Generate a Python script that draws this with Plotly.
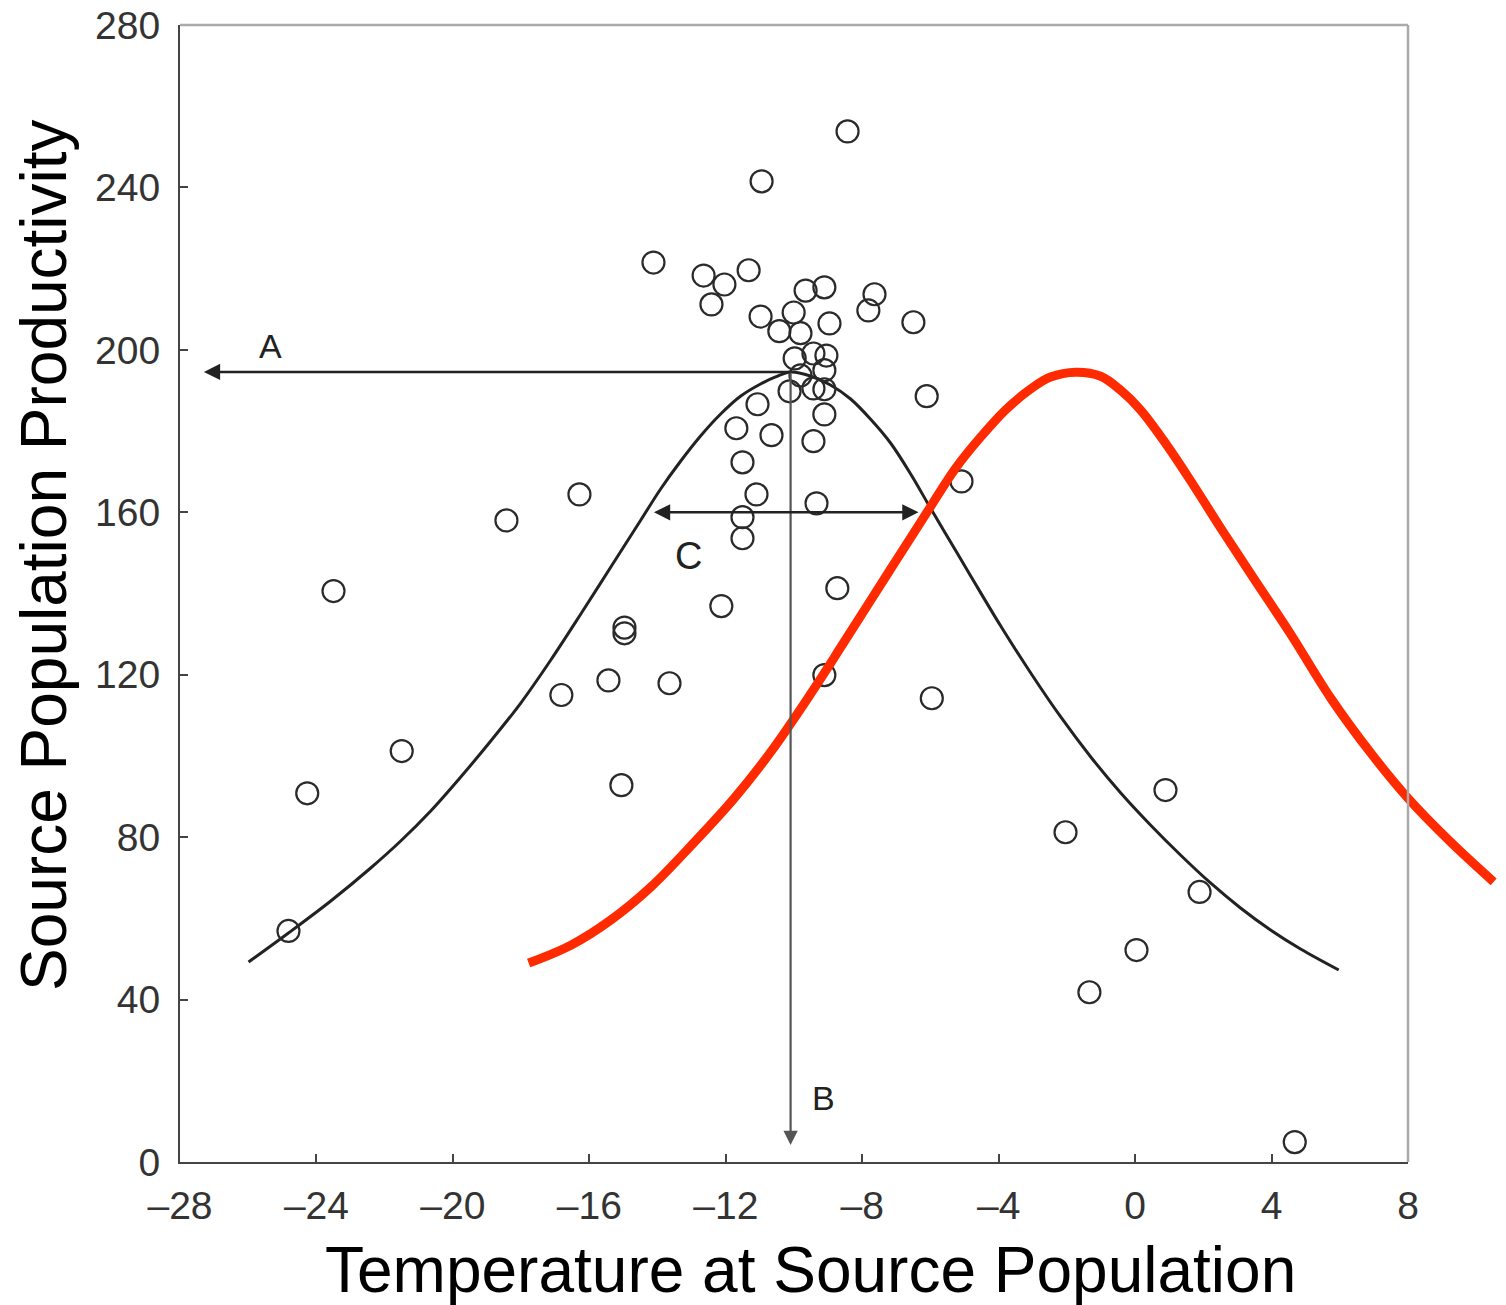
import plotly.graph_objects as go

# ---------------- data ----------------
pts_x = [-24.82, -24.27, -23.5, -21.5, -18.43, -16.29, -16.82, -15.44, -14.97, -14.97,
         -15.06, -13.65, -14.12, -12.65, -12.04, -12.42, -11.33, -10.95, -8.43, -10.98,
         -10.43, -10.01, -9.66, -9.11, -9.81, -8.96, -7.64, -7.82, -6.50, -9.98,
         -9.43, -9.05, -9.11, -9.81, -9.43, -9.11, -10.13, -11.07, -9.11, -6.11,
         -11.69, -10.66, -9.43, -11.51, -11.1, -9.34, -11.51, -11.51, -12.13, -8.73,
         -5.09, -9.11, -5.96, -2.04, 0.89, 1.89, 0.04, -1.34, 4.68]
pts_y = [56.9, 90.8, 140.6, 101.2, 158.0, 164.4, 115.0, 118.6, 131.6, 130.2,
         92.8, 117.9, 221.5, 218.3, 216.1, 211.2, 219.6, 241.5, 253.8, 208.2,
         204.6, 209.2, 214.6, 215.4, 204.1, 206.5, 213.7, 209.7, 206.8, 197.9,
         199.1, 198.6, 195.0, 193.7, 190.5, 190.3, 189.8, 186.6, 184.1, 188.6,
         180.7, 179.0, 177.5, 172.3, 164.4, 162.2, 158.8, 153.6, 136.9, 141.3,
         167.6, 119.9, 114.2, 81.2, 91.6, 66.5, 52.2, 41.8, 4.9]

fit_x = [-25.99, -24.82, -23.58, -22.41, -21.53, -20.65, -19.77, -18.89, -18.01, -17.13,
         -16.25, -15.37, -14.49, -13.91, -13.32, -12.74, -12.15, -11.56, -10.98, -10.54,
         -10.10, -9.52, -8.93, -8.34, -7.76, -7.17, -6.58, -6.00, -5.41, -4.82,
         -3.94, -3.06, -2.18, -1.30, -0.42, 0.45, 1.33, 2.21, 3.09, 3.97,
         4.85, 5.97]
fit_y = [49.25, 56.39, 64.27, 72.40, 79.05, 86.44, 94.81, 103.68, 113.03, 123.62,
         134.95, 146.53, 158.10, 165.74, 172.63, 178.79, 184.21, 188.64, 191.60, 193.32,
         194.55, 193.57, 191.35, 187.90, 182.97, 177.06, 169.43, 161.05, 152.68, 144.31,
         131.99, 120.42, 109.59, 99.74, 90.87, 82.99, 75.60, 68.71, 62.55, 57.13,
         52.45, 47.28]

shift_x = [-17.78, -16.54, -15.37, -14.20, -12.94, -11.77, -10.68, -9.51, -8.55, -7.26,
           -6.08, -5.26, -4.53, -3.80, -3.06, -2.48, -1.74, -1.01, -0.43, 0.16,
           0.95, 1.71, 2.51, 3.47, 4.56, 5.73, 6.91, 8.02, 9.25, 10.51]
shift_y = [49.0, 53.4, 59.6, 67.7, 78.6, 89.4, 101.0, 115.3, 127.8, 144.8,
           160.3, 170.9, 178.5, 185.2, 190.4, 193.3, 194.5, 193.5, 190.1, 185.2,
           176.3, 166.7, 156.1, 143.8, 130.0, 114.3, 100.7, 89.4, 78.8, 69.0]

x_ticks = [-28, -24, -20, -16, -12, -8, -4, 0, 4, 8]
x_tick_labels = ["\u201328", "\u201324", "\u201320", "\u201316", "\u201312",
                 "\u20138", "\u20134", "0", "4", "8"]
y_ticks = [0, 40, 80, 120, 160, 200, 240, 280]

# annotation (arrow) values
arrow_a_end_x = -27.3
arrow_b_end_y = 4.2
band_y = 160
band_x = [-14.15, -6.35]
label_text = ["A", "B", "C"]
label_x = [-25.35, -9.13, -13.09]
label_y = [200.9, 15.75, 149.2]
label_size = [34, 34, 38]

X_RANGE = [-28, 8]
Y_RANGE = [0, 280]

# ---------------- layout geometry ----------------
W, H = 1506, 1305
ML, MR, MT, MB = 180, 8, 25, 143
plot_w = W - ML - MR
plot_h = H - MT - MB
main_w = 1228
dom_main = main_w / plot_w
x2_max = X_RANGE[0] + (X_RANGE[1] - X_RANGE[0]) / dom_main

FONT = "Liberation Sans, Arial, Helvetica, sans-serif"

fig = go.Figure()
fig.add_trace(go.Scatter(x=fit_x, y=fit_y, mode="lines",
                         line=dict(color="#222222", width=3, shape="spline", smoothing=1.0),
                         hoverinfo="skip", showlegend=False))
fig.add_trace(go.Scatter(x=pts_x, y=pts_y, mode="markers",
                         marker=dict(symbol="circle-open", size=22, color="#2a2a2a",
                                     line=dict(width=2.2, color="#2a2a2a")),
                         showlegend=False))
fig.add_trace(go.Scatter(x=shift_x, y=shift_y, mode="lines", xaxis="x2", yaxis="y2",
                         line=dict(color="#ff2a00", width=9, shape="spline", smoothing=1.0),
                         hoverinfo="skip", showlegend=False))

axis_common = dict(showgrid=False, zeroline=False, ticks="inside", ticklen=8, tickwidth=2,
                   tickcolor="#444444", showline=True, linecolor="#444444", linewidth=2,
                   automargin=False,
                   tickfont=dict(family=FONT, size=39, color="#333333"))

fig.update_layout(
    width=W, height=H,
    margin=dict(l=ML, r=MR, t=MT, b=MB),
    paper_bgcolor="white", plot_bgcolor="rgba(0,0,0,0)",
    xaxis=dict(domain=[0, dom_main], range=X_RANGE, tickvals=x_ticks, ticktext=x_tick_labels,
               anchor="y", ticklabelstandoff=8, **axis_common),
    yaxis=dict(domain=[0, 1], range=Y_RANGE, tickvals=y_ticks, anchor="x",
               ticklabelstandoff=10, **axis_common),
    xaxis2=dict(domain=[0, 1], range=[X_RANGE[0], x2_max], visible=False, anchor="y2"),
    yaxis2=dict(domain=[0, 1], range=Y_RANGE, visible=False, anchor="x2"),
    shapes=[
        dict(type="line", xref="x domain", yref="y domain", x0=0, x1=1, y0=1, y1=1,
             line=dict(color="#aaaaaa", width=2.5)),
        dict(type="line", xref="x domain", yref="y domain", x0=1, x1=1, y0=0, y1=1,
             line=dict(color="#aaaaaa", width=2.5)),
    ],
)

# arrows from the curve peak
i_peak = max(range(len(fit_y)), key=lambda i: fit_y[i])
peak_x, peak_y = fit_x[i_peak], fit_y[i_peak]

annotations = [
    dict(x=arrow_a_end_x, y=peak_y, ax=peak_x, ay=peak_y, xref="x", yref="y",
         axref="x", ayref="y", showarrow=True, arrowhead=2, arrowsize=1.3, arrowwidth=2.5,
         arrowcolor="#222222", text="", standoff=0, startstandoff=0),
    dict(x=peak_x, y=arrow_b_end_y, ax=peak_x, ay=peak_y, xref="x", yref="y",
         axref="x", ayref="y", showarrow=True, arrowhead=2, arrowsize=1.3, arrowwidth=2.2,
         arrowcolor="#555555", text="", standoff=0, startstandoff=0),
    dict(x=band_x[1], y=band_y, ax=band_x[0], ay=band_y, xref="x", yref="y",
         axref="x", ayref="y", showarrow=True, arrowhead=2, startarrowhead=2,
         arrowside="end+start", arrowsize=1.3, startarrowsize=1.3, arrowwidth=2.5,
         arrowcolor="#222222", text="", standoff=0, startstandoff=0),
]
for t, lx, ly, ls in zip(label_text, label_x, label_y, label_size):
    annotations.append(dict(x=lx, y=ly, xref="x", yref="y", text=t, showarrow=False,
                            font=dict(family=FONT, size=ls, color="#222222")))

# axis titles
annotations.append(dict(x=(810 - ML) / plot_w, y=(H - MB - 1270) / plot_h,
                        xref="paper", yref="paper", text="Temperature at Source Population",
                        showarrow=False, xanchor="center", yanchor="middle",
                        font=dict(family=FONT, size=64, color="black")))
annotations.append(dict(x=(44 - ML) / plot_w, y=(H - MB - 555) / plot_h,
                        xref="paper", yref="paper", text="Source Population Productivity",
                        showarrow=False, xanchor="center", yanchor="middle", textangle=-90,
                        font=dict(family=FONT, size=64, color="black")))

fig.update_layout(annotations=annotations)
fig.write_html("out.html", config={"displayModeBar": False},
               post_script="document.body.style.margin='0px';document.body.style.overflow='hidden';")
